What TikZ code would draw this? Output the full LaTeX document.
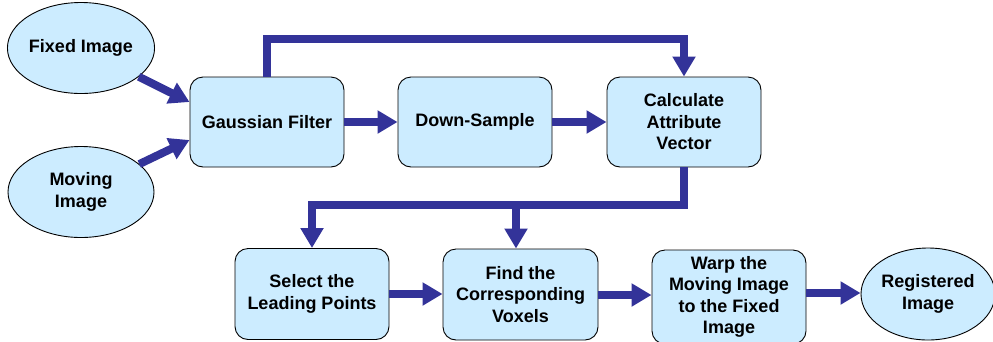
\documentclass[tikz,border=0pt]{standalone}
\usepackage{fontspec}
\setmainfont{Liberation Sans}
\usetikzlibrary{arrows.meta,shapes.geometric}
\definecolor{arrowblue}{HTML}{333399}
\definecolor{boxfill}{HTML}{CCECFF}
\begin{document}
\begin{tikzpicture}[x=1pt,y=-1pt,
  every node/.style={font=\fontsize{18}{21.5}\selectfont\bfseries, align=center, text=black},
  procbox/.style={draw=black, line width=0.9pt, fill=boxfill, rounded corners=13pt,
    minimum width=154pt, minimum height=90pt, inner sep=0pt},
  ioell/.style={draw=black, line width=0.9pt, fill=boxfill, ellipse,
    minimum width=146pt, minimum height=91pt, inner sep=0pt},
  arr/.style={draw=arrowblue, line width=8pt, line join=miter,
    -{Triangle[width=22pt,length=20pt]}}
]
\useasboundingbox (0,0) rectangle (993,341);
\node[ioell] (fixed) at (81,48) {Fixed Image};
\node[ioell] (moving) at (81,192) {Moving\\Image};
\node[procbox] (gauss) at (267,122) {Gaussian Filter};
\node[procbox] (down) at (475,122) {Down-Sample};
\node[procbox] (calc) at (684,122) {Calculate\\Attribute\\Vector};
\node[procbox, minimum height=91pt] (select) at (312,294) {Select the\\Leading Points};
\node[procbox, minimum height=91pt, minimum width=155pt] (find) at (520.5,294.5) {Find the\\Corresponding\\Voxels};
\node[procbox, minimum height=94pt] (warp) at (729,297) {Warp the\\Moving Image\\to the Fixed\\Image};
\node[ioell, minimum width=134pt, minimum height=92pt] (reg) at (928,294) {Registered\\Image};

\coordinate (tl) at (267,39);
\coordinate (bl) at (312,205);
\coordinate (fb) at (516,205);

\draw[arr] (fixed) -- ([yshift=20pt]gauss.west);
\draw[arr] (moving) -- ([yshift=-18pt]gauss.west);
\draw[arr] (gauss) -- (down);
\draw[arr] (down) -- (calc);
\draw[arr] (gauss.north) -- (tl) -| (calc.north);
\draw[arr] (calc.south) |- (bl) -- (select.north);
\draw[arr] (fb) -- (fb |- find.north);
\draw[arr] (select.east |- 0,294) -- (find.west |- 0,294);
\draw[arr] (find.east |- 0,295) -- (warp.west |- 0,295);
\draw[arr] (warp.east |- 0,293) -- (reg.west |- 0,293);
\end{tikzpicture}
\end{document}
